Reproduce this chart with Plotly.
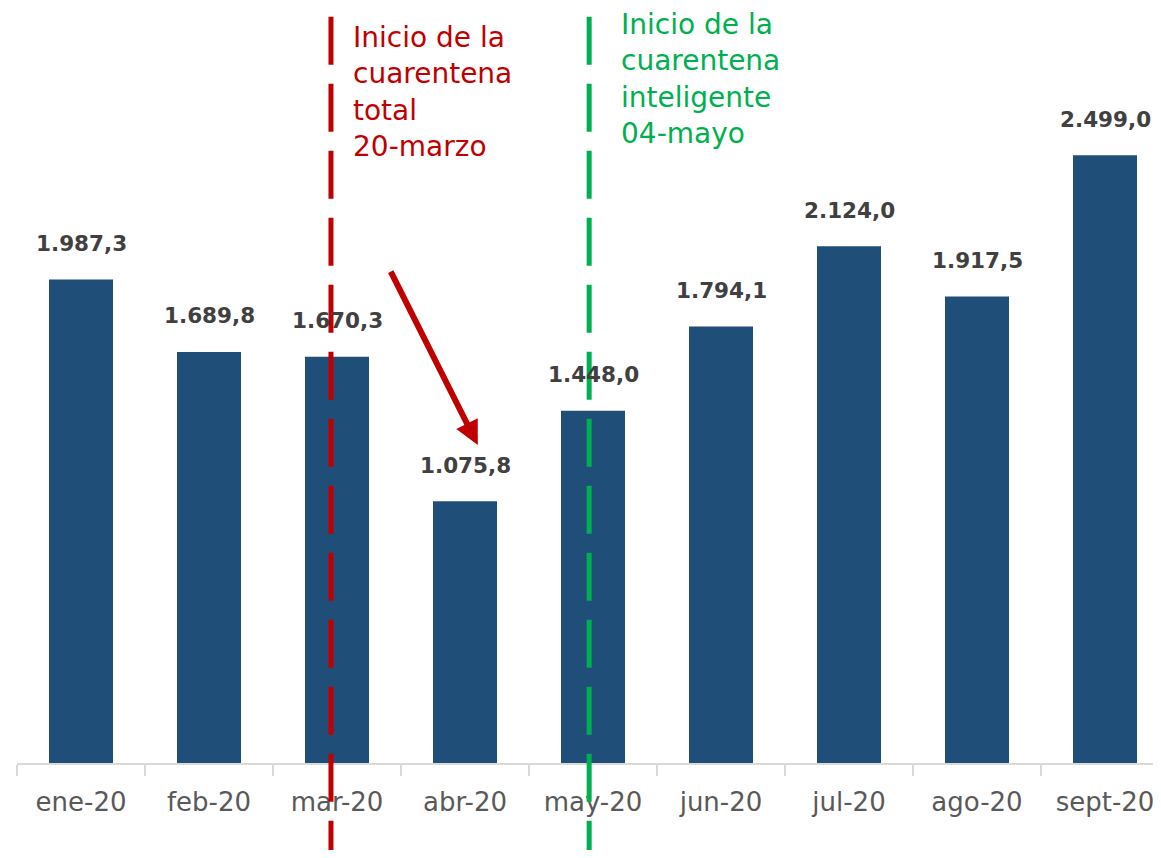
import plotly.graph_objects as go

categories = ["ene-20", "feb-20", "mar-20", "abr-20", "may-20", "jun-20", "jul-20", "ago-20", "sept-20"]
values = [1987.3, 1689.8, 1670.3, 1075.8, 1448.0, 1794.1, 2124.0, 1917.5, 2499.0]

red_text = "Inicio de la<br>cuarentena<br>total<br>20-marzo"
green_text = "Inicio de la<br>cuarentena<br>inteligente<br>04-mayo"

FONT = "DejaVu Sans"


def fmt(v):
    s = f"{v:,.1f}"
    return s.replace(",", "X").replace(".", ",").replace("X", ".")


fig = go.Figure()
fig.add_trace(go.Bar(
    x=categories,
    y=values,
    width=0.5,
    marker=dict(color="#1F4E79", line=dict(width=0)),
    hoverinfo="skip",
))

annotations = []
for i, v in enumerate(values):
    annotations.append(dict(
        x=i, y=v, xref="x", yref="y", text=f"<b>{fmt(v)}</b>",
        showarrow=False, yshift=36, yanchor="middle", xanchor="center",
        font=dict(family=FONT, size=21.5, color="#404040"),
    ))

annotations.append(dict(
    x=2.11, y=0.986, xref="x", yref="paper", text=red_text, showarrow=False,
    xanchor="left", yanchor="top", align="left",
    font=dict(family=FONT, size=28, color="#C00000"),
))
annotations.append(dict(
    x=4.205, y=1.002, xref="x", yref="paper", text=green_text, showarrow=False,
    xanchor="left", yanchor="top", align="left",
    font=dict(family=FONT, size=28, color="#00B050"),
))
# arrow
annotations.append(dict(
    x=3.10, y=1307, xref="x", yref="y", ax=2.414, ay=2026, axref="x", ayref="y",
    text="", showarrow=True, arrowhead=2, arrowsize=0.8, arrowwidth=6,
    arrowcolor="#C00000",
))

shapes = [
    dict(type="line", xref="x", yref="paper", x0=1.953, x1=1.953, y0=-0.14, y1=0.997,
         line=dict(color="#C00000", width=5, dash="48px,19px"), layer="above"),
    dict(type="line", xref="x", yref="paper", x0=3.97, x1=3.97, y0=-0.14, y1=0.99,
         line=dict(color="#00B050", width=5, dash="48px,19px"), layer="above"),
]

fig.update_layout(
    width=1153, height=842,
    margin=dict(l=9, r=0, t=0, b=87),
    paper_bgcolor="white", plot_bgcolor="white",
    showlegend=False,
    annotations=annotations,
    shapes=shapes,
    xaxis=dict(
        type="category",
        range=[-0.5, 8.4375],
        tickson="boundaries",
        ticks="outside", ticklen=11, tickwidth=2, tickcolor="#D9D9D9",
        ticklabelstandoff=15,
        showline=True, linecolor="#D9D9D9", linewidth=2,
        showgrid=False, zeroline=False,
        tickfont=dict(family=FONT, size=26, color="#595959"),
        fixedrange=True,
    ),
    yaxis=dict(
        range=[0, 3104], visible=False, showgrid=False, zeroline=False,
        fixedrange=True,
    ),
)

fig.write_html("out.html", config={"displayModeBar": False})
